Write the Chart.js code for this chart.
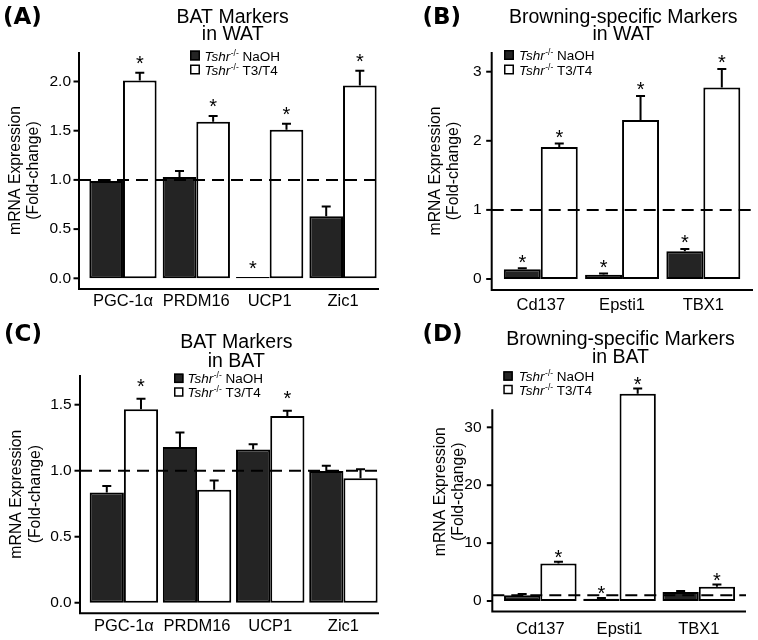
<!DOCTYPE html>
<html><head><meta charset="utf-8">
<script src="https://cdn.jsdelivr.net/npm/chart.js@4.4.1/dist/chart.umd.min.js"></script>
<style>
html,body{margin:0;padding:0;background:#fff;}
#wrap{position:relative;width:758px;height:640px;overflow:hidden;background:#fff;}
#wrap canvas{position:absolute;}
</style></head><body>
<div id="wrap">
<canvas id="pA" width="380" height="320" style="left:0px;top:0px"></canvas>
<canvas id="pB" width="378" height="320" style="left:380px;top:0px"></canvas>
<canvas id="pC" width="380" height="320" style="left:0px;top:320px"></canvas>
<canvas id="pD" width="378" height="320" style="left:380px;top:320px"></canvas>
</div>
<script>
// ---------------- DATA ----------------
const batMarkers = ['PGC-1α', 'PRDM16', 'UCP1', 'Zic1'];
const browningMarkers = ['Cd137', 'Epsti1', 'TBX1'];
const seriesNames = ['NaOH', 'T3/T4'];
const genotype = 'Tshr';
const genotypeSup = '-/-';
const yAxisTitle = ['mRNA Expression', '(Fold-change)'];
const referenceLevel = 1;

// (A) BAT markers in WAT
const watBatNaOH = [0.99, 1.03, 0.012, 0.63];
const watBatNaOHSem = [0.01, 0.06, 0, 0.10];
const watBatT3T4 = [2.01, 1.59, 1.51, 1.96];
const watBatT3T4Sem = [0.08, 0.06, 0.06, 0.15];
const watBatNaOHSig = [false, false, true, false];
const watBatT3T4Sig = [true, true, true, true];
const watBatTicks = [0, 0.5, 1, 1.5, 2];
const watBatTickLabels = ['0.0', '0.5', '1.0', '1.5', '2.0'];

// (B) Browning-specific markers in WAT
const watBrNaOH = [0.14, 0.06, 0.40];
const watBrNaOHSem = [0.015, 0.02, 0.035];
const watBrT3T4 = [1.91, 2.30, 2.77];
const watBrT3T4Sem = [0.05, 0.35, 0.27];
const watBrNaOHSig = [true, true, true];
const watBrT3T4Sig = [true, true, true];
const watBrTicks = [0, 1, 2, 3];
const watBrTickLabels = ['0', '1', '2', '3'];

// (C) BAT markers in BAT
const batBatNaOH = [0.835, 1.18, 1.16, 0.997];
const batBatNaOHSem = [0.05, 0.11, 0.04, 0.04];
const batBatT3T4 = [1.465, 0.855, 1.415, 0.942];
const batBatT3T4Sem = [0.08, 0.07, 0.04, 0.07];
const batBatNaOHSig = [false, false, false, false];
const batBatT3T4Sig = [true, false, true, false];
const batBatTicks = [0, 0.5, 1, 1.5];
const batBatTickLabels = ['0.0', '0.5', '1.0', '1.5'];

// (D) Browning-specific markers in BAT
const batBrNaOH = [1.0, 0.4, 1.55];
const batBrNaOHSem = [0.2, 0.1, 0.2];
const batBrT3T4 = [6.5, 35.8, 2.45];
const batBrT3T4Sem = [0.3, 0.9, 0.4];
const batBrNaOHSig = [false, true, false];
const batBrT3T4Sig = [true, true, true];
const batBrTicks = [0, 10, 20, 30];
const batBrTickLabels = ['0', '10', '20', '30'];

// ---------------- DRAWING ----------------
const FONT = '"Liberation Sans", Arial, Helvetica, sans-serif';
const LABEL_FONT = '"DejaVu Sans", Verdana, sans-serif';
const DARK = '#242424';
Chart.defaults.color = '#000';

function makeDeco(d, L) {
  return {
    id: 'deco' + L.id,
    afterDatasetsDraw(chart) {
      const ctx = chart.ctx, y = chart.scales.y;
      ctx.save();
      ctx.strokeStyle = '#000'; ctx.lineWidth = 2; ctx.lineCap = 'butt';
      chart.data.datasets.forEach((ds, di) => {
        chart.getDatasetMeta(di).data.forEach((bar, i) => {
          const e = d.sem[di][i];
          if (e <= 0) return;
          const base = y.getPixelForValue(ds.data[i]);
          const top = y.getPixelForValue(ds.data[i] + e);
          ctx.beginPath();
          ctx.moveTo(bar.x, base); ctx.lineTo(bar.x, top);
          ctx.moveTo(bar.x - 4.5, top); ctx.lineTo(bar.x + 4.5, top);
          ctx.stroke();
        });
      });
      const yr = y.getPixelForValue(referenceLevel);
      ctx.setLineDash([12, 7]);
      ctx.beginPath(); ctx.moveTo(L.axisX, yr); ctx.lineTo(L.axisRight, yr); ctx.stroke();
      ctx.setLineDash([]);
      ctx.fillStyle = '#000';
      ctx.font = '20px ' + FONT;
      ctx.textAlign = 'center'; ctx.textBaseline = 'alphabetic';
      chart.data.datasets.forEach((ds, di) => {
        chart.getDatasetMeta(di).data.forEach((bar, i) => {
          if (!d.sig[di][i]) return;
          const top = y.getPixelForValue(ds.data[i] + d.sem[di][i]);
          ctx.fillText('*', bar.x, top - L.starGap + 11.5);
        });
      });
      ctx.restore();
    },
    afterDraw(chart) {
      const ctx = chart.ctx, y = chart.scales.y, area = chart.chartArea;
      ctx.save();
      ctx.strokeStyle = '#000'; ctx.lineWidth = 2;
      const yTop = L.axisTopVal !== undefined ? y.getPixelForValue(L.axisTopVal) : area.top;
      ctx.beginPath();
      ctx.moveTo(L.axisX, yTop); ctx.lineTo(L.axisX, area.bottom);
      ctx.moveTo(L.axisX - 1, area.bottom); ctx.lineTo(L.axisRight, area.bottom);
      ctx.stroke();
      y.ticks.forEach(t => {
        const py = y.getPixelForValue(t.value);
        ctx.beginPath(); ctx.moveTo(L.axisX - 5.5, py); ctx.lineTo(L.axisX, py); ctx.stroke();
      });
      ctx.fillStyle = '#000';
      ctx.textAlign = 'center'; ctx.textBaseline = 'alphabetic';
      ctx.font = '19.5px ' + FONT;
      ctx.fillText(d.title[0], L.titleX, L.titleY[0]);
      ctx.fillText(d.title[1], L.titleX, L.titleY[1]);
      ctx.textAlign = 'left';
      ctx.font = 'bold 23px ' + LABEL_FONT;
      ctx.fillText(d.panel, L.panelX, L.panelY);
      const fills = [DARK, '#ffffff'];
      ctx.lineWidth = 1.5;
      seriesNames.forEach((name, k) => {
        const cy = L.legY + k * L.legDy;
        const s = L.legSize;
        ctx.fillStyle = fills[k];
        ctx.fillRect(L.legX, cy - s / 2, s, s);
        ctx.strokeStyle = '#000';
        ctx.strokeRect(L.legX + 0.75, cy - s / 2 + 0.75, s - 1.5, s - 1.5);
        ctx.fillStyle = '#000';
        const base = cy + 5;
        let tx = L.legX + s + L.legGap;
        ctx.font = 'italic 13.5px ' + FONT;
        ctx.fillText(genotype, tx, base);
        tx += ctx.measureText(genotype).width + 0.5;
        ctx.font = '8.5px ' + FONT;
        ctx.fillText(genotypeSup, tx, base - 5);
        tx += ctx.measureText(genotypeSup).width;
        ctx.font = '13.5px ' + FONT;
        ctx.fillText(' ' + name, tx, base);
      });
      ctx.restore();
    }
  };
}

function buildPanel(id, d, L) {
  return new Chart(document.getElementById(id), {
    type: 'bar',
    data: {
      labels: d.labels,
      datasets: seriesNames.map((name, k) => ({
        label: name,
        data: d.values[k],
        backgroundColor: k === 0 ? DARK : '#ffffff',
        borderColor: '#000',
        borderWidth: 2,
        borderSkipped: false,
        categoryPercentage: L.catPct,
        barPercentage: 1
      }))
    },
    options: {
      responsive: false, animation: false, devicePixelRatio: 1,
      layout: { padding: { left: L.padLeft, right: L.padRight, top: L.top, bottom: 0 } },
      plugins: { legend: { display: false }, title: { display: false }, tooltip: { enabled: false } },
      scales: {
        x: {
          grid: { display: false, drawTicks: false, tickLength: 0 },
          border: { display: false },
          ticks: { font: { family: FONT, size: 16.5 }, color: '#000', padding: L.xPad, maxRotation: 0, minRotation: 0, autoSkip: false },
          afterFit: s => { s.height = L.xHeight; }
        },
        y: {
          min: L.yMin, max: L.yMax, bounds: 'data',
          grid: { display: false, drawTicks: false, tickLength: 0 },
          border: { display: false },
          afterBuildTicks: s => { s.ticks = d.ticks.map(v => ({ value: v })); },
          ticks: {
            font: { family: FONT, size: 15.5 }, color: '#000', padding: L.yPad,
            callback: v => d.tickLabels[d.ticks.indexOf(v)]
          },
          title: {
            display: true, text: yAxisTitle, color: '#000',
            font: { family: FONT, size: 15.8, lineHeight: '18.5px' },
            padding: { top: L.titlePad, bottom: 0 }
          },
          afterFit: s => { s.width = L.yWidth; }
        }
      }
    },
    plugins: [makeDeco(d, L)]
  });
}

buildPanel('pA', {
  labels: batMarkers, values: [watBatNaOH, watBatT3T4], sem: [watBatNaOHSem, watBatT3T4Sem],
  sig: [watBatNaOHSig, watBatT3T4Sig], ticks: watBatTicks, tickLabels: watBatTickLabels,
  title: ['BAT Markers', 'in WAT'], panel: '(A)'
}, {
  id: 'A', padLeft: 0, yWidth: 86.3, padRight: 0.3, top: 52, xHeight: 31,
  yMin: -0.1087, yMax: 2.2998, axisX: 79, axisRight: 379, yPad: 15.3, titlePad: 6, xPad: 2.5,
  catPct: 0.917, starGap: 14, titleX: 232.7, titleY: [22.7, 40], panelX: 3, panelY: 24,
  legX: 190, legY: 55.5, legDy: 14, legSize: 10, legGap: 4.5
});

buildPanel('pB', {
  labels: browningMarkers, values: [watBrNaOH, watBrT3T4], sem: [watBrNaOHSem, watBrT3T4Sem],
  sig: [watBrNaOHSig, watBrT3T4Sig], ticks: watBrTicks, tickLabels: watBrTickLabels,
  title: ['Browning-specific Markers', 'in WAT'], panel: '(B)'
}, {
  id: 'B', padLeft: 40, yWidth: 80.15, padRight: 14.05, top: 52, xHeight: 30,
  yMin: -0.159, yMax: 3.285, axisX: 111.7, axisRight: 373, yPad: 18.5, titlePad: 6, xPad: 6,
  catPct: 0.91, starGap: 11, titleX: 243.3, titleY: [23, 40], panelX: 42.5, panelY: 24,
  legX: 124, legY: 55, legDy: 14.5, legSize: 10, legGap: 5
});

buildPanel('pC', {
  labels: batMarkers, values: [batBatNaOH, batBatT3T4], sem: [batBatNaOHSem, batBatT3T4Sem],
  sig: [batBatNaOHSig, batBatT3T4Sig], ticks: batBatTicks, tickLabels: batBatTickLabels,
  title: ['BAT Markers', 'in BAT'], panel: '(C)'
}, {
  id: 'C', padLeft: 0, yWidth: 87.3, padRight: 0, top: 55, xHeight: 26.7,
  yMin: -0.080, yMax: 1.725, axisX: 80, axisRight: 379, yPad: 15.6, titlePad: 7.4, xPad: 3.6,
  catPct: 0.935, starGap: 17, titleX: 236.3, titleY: [28.3, 46.7], panelX: 4, panelY: 20.5,
  legX: 174, legY: 58.3, legDy: 13.7, legSize: 9.5, legGap: 4
});

buildPanel('pD', {
  labels: browningMarkers, values: [batBrNaOH, batBrT3T4], sem: [batBrNaOHSem, batBrT3T4Sem],
  sig: [batBrNaOHSig, batBrT3T4Sig], ticks: batBrTicks, tickLabels: batBrTickLabels,
  title: ['Browning-specific Markers', 'in BAT'], panel: '(D)'
}, {
  id: 'D', padLeft: 45, yWidth: 75.7, padRight: 19.6, top: 52, xHeight: 28.5,
  yMin: -1.81, yMax: 39.55, axisTopVal: 33.1, axisX: 112.3, axisRight: 366, yPad: 19.2, titlePad: 6, xPad: 8,
  catPct: 0.916, starGap: 9.5, titleX: 240.5, titleY: [25, 43.3], panelX: 42.5, panelY: 20.5,
  legX: 123.3, legY: 56, legDy: 13.5, legSize: 9.5, legGap: 6
});
</script>
</body></html>
